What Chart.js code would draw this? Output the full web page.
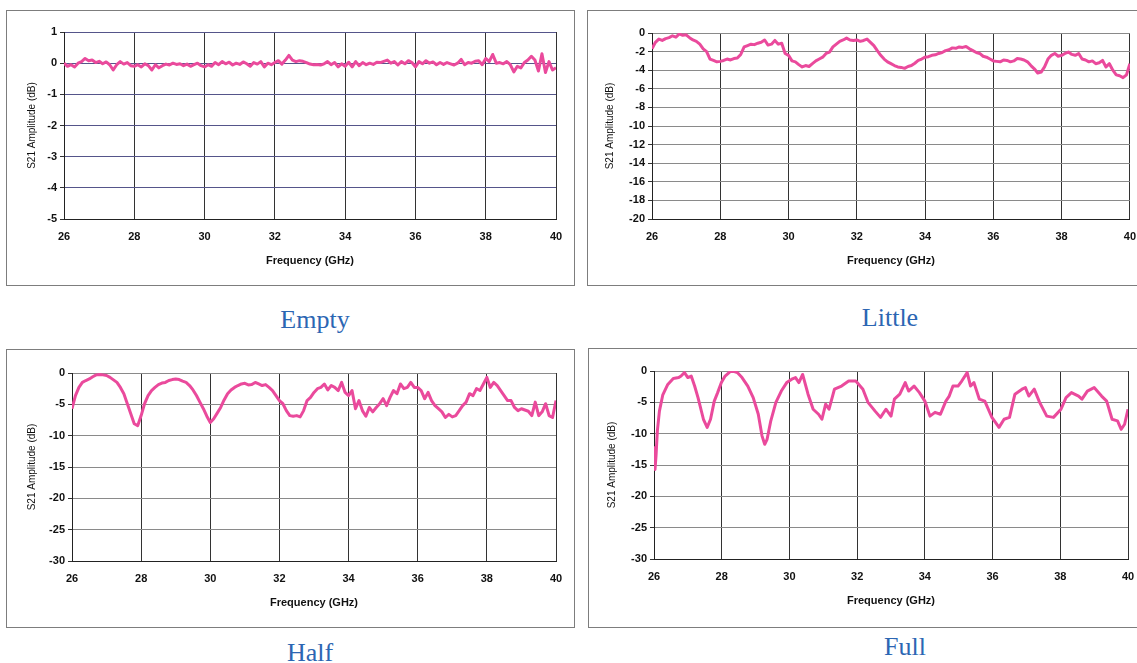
<!DOCTYPE html>
<html lang="en">
<head>
<meta charset="UTF-8">
<title>S21 Amplitude vs Frequency</title>
<script src="https://cdn.jsdelivr.net/npm/chart.js"></script>
<style>
    body { margin: 0; background: #fff; width: 1137px; height: 663px; overflow: hidden; position: relative; }
    .panel { position: absolute; outline: 1px solid #7d7d7d; outline-offset: -1px; }
    .panel canvas { position: absolute; left: 0; top: 0; }
    .caption {
        position: absolute;
        transform: translate(-50%, -50%);
        font-family: "Liberation Serif", "Times New Roman", serif;
        font-size: 26px;
        line-height: 1;
        color: #2c66b3;
        white-space: nowrap;
    }
</style>
</head>
<body>
<div class="panel" id="boxEmpty"><canvas id="chartEmpty"></canvas></div>
<div class="panel" id="boxLittle"><canvas id="chartLittle"></canvas></div>
<div class="panel" id="boxHalf"><canvas id="chartHalf"></canvas></div>
<div class="panel" id="boxFull"><canvas id="chartFull"></canvas></div>
<div class="caption" style="left:315px; top:320px;">Empty</div>
<div class="caption" style="left:890px; top:318px;">Little</div>
<div class="caption" style="left:310px; top:653px;">Half</div>
<div class="caption" style="left:905px; top:647px;">Full</div>

<script>
// frequency grid (GHz) shared by Empty, Little and Half
const freq = [
    26.0, 26.1, 26.2, 26.3, 26.4, 26.5, 26.6, 26.7, 26.8, 26.9,
    27.0, 27.1, 27.2, 27.3, 27.4, 27.5, 27.6, 27.7, 27.8, 27.9,
    28.0, 28.1, 28.2, 28.3, 28.4, 28.5, 28.6, 28.7, 28.8, 28.9,
    29.0, 29.1, 29.2, 29.3, 29.4, 29.5, 29.6, 29.7, 29.8, 29.9,
    30.0, 30.1, 30.2, 30.3, 30.4, 30.5, 30.6, 30.7, 30.8, 30.9,
    31.0, 31.1, 31.2, 31.3, 31.4, 31.5, 31.6, 31.7, 31.8, 31.9,
    32.0, 32.1, 32.2, 32.3, 32.4, 32.5, 32.6, 32.7, 32.8, 32.9,
    33.0, 33.1, 33.2, 33.3, 33.4, 33.5, 33.6, 33.7, 33.8, 33.9,
    34.0, 34.1, 34.2, 34.3, 34.4, 34.5, 34.6, 34.7, 34.8, 34.9,
    35.0, 35.1, 35.2, 35.3, 35.4, 35.5, 35.6, 35.7, 35.8, 35.9,
    36.0, 36.1, 36.2, 36.3, 36.4, 36.5, 36.6, 36.7, 36.8, 36.9,
    37.0, 37.1, 37.2, 37.3, 37.4, 37.5, 37.6, 37.7, 37.8, 37.9,
    38.0, 38.1, 38.2, 38.3, 38.4, 38.5, 38.6, 38.7, 38.8, 38.9,
    39.0, 39.1, 39.2, 39.3, 39.4, 39.5, 39.6, 39.7, 39.8, 39.9,
    40.0
];

// S21 amplitude (dB)
const emptyS21 = [
    0.0, -0.1, -0.05, -0.12, 0.0, 0.05, 0.15, 0.08, 0.1, 0.02,
    0.06, -0.02, 0.04, -0.05, -0.22, -0.05, 0.05, -0.03, 0.02, -0.08,
    -0.1, -0.05, -0.12, -0.02, -0.08, -0.22, -0.05, -0.15, -0.08, -0.03,
    -0.06, 0.0, -0.04, -0.02, -0.08, -0.03, -0.1, -0.05, 0.0, -0.08,
    -0.12, -0.05, -0.1, 0.02, -0.05, 0.05, -0.02, 0.03, -0.06, 0.0,
    -0.04, 0.04, -0.02, -0.1, 0.02, -0.03, 0.05, -0.12, 0.0, -0.05,
    0.02, 0.08, -0.03, 0.1, 0.25, 0.1, 0.05, 0.08, 0.06, 0.02,
    -0.03, -0.05, -0.04, -0.06, -0.02, 0.05, -0.05, 0.02, -0.12, -0.02,
    -0.1, 0.03, -0.12, 0.05, -0.08, 0.02, -0.05, 0.0, -0.04, 0.03,
    0.02, 0.06, 0.1, 0.0, 0.05, -0.06, 0.05, -0.02, 0.08, 0.02,
    -0.12, 0.05, -0.02, 0.08, 0.0, 0.04, -0.05, 0.02, -0.04, 0.02,
    -0.02, -0.06, 0.0, 0.12, -0.05, 0.02, 0.0, 0.06, 0.08, -0.05,
    0.15, 0.05, 0.28, 0.0, 0.02, -0.02, 0.05, -0.05, -0.28, -0.1,
    -0.15, 0.02, 0.1, 0.22, 0.1, -0.25, 0.3, -0.3, 0.05, -0.22,
    -0.15
];

const littleS21 = [
    -1.7, -1.0, -0.65, -0.8, -0.6, -0.5, -0.3, -0.45, -0.1, -0.25,
    -0.2, -0.5, -0.75, -0.9, -1.2, -1.7, -2.0, -2.8, -2.95, -3.1,
    -3.05, -2.95, -2.8, -2.9, -2.75, -2.7, -2.3, -1.5, -1.35, -1.2,
    -1.25, -1.1, -1.0, -0.75, -1.3, -1.2, -0.8, -1.2, -1.1, -2.2,
    -2.4, -3.0, -3.1, -3.4, -3.65, -3.5, -3.6, -3.3, -3.0, -2.8,
    -2.6, -2.2, -2.05, -1.5, -1.2, -0.9, -0.75, -0.55, -0.75, -0.8,
    -0.75, -0.9, -0.8, -0.65, -1.0, -1.35, -1.9, -2.4, -2.8, -3.1,
    -3.3, -3.5, -3.65, -3.7, -3.8, -3.6, -3.5, -3.25, -2.95, -2.8,
    -2.6, -2.55, -2.4, -2.35, -2.2, -2.1, -1.9, -1.8, -1.6, -1.65,
    -1.5, -1.55, -1.45, -1.7, -1.9, -2.1, -2.2, -2.5, -2.6, -2.8,
    -3.0, -3.05, -3.1, -2.9, -2.95, -3.1, -3.0, -2.75, -2.8, -2.9,
    -3.1, -3.5, -3.85, -4.3, -4.2, -3.65, -2.8, -2.4, -2.2, -2.5,
    -2.4, -2.2, -2.05, -2.3, -2.4, -2.2, -2.8, -2.9, -3.1, -3.0,
    -3.3, -3.2, -2.95, -3.65, -3.3, -4.0, -4.5, -4.6, -4.8, -4.5,
    -3.3
];

const halfS21 = [
    -5.7, -3.6, -2.3, -1.5, -1.2, -0.95, -0.6, -0.3, -0.25, -0.3,
    -0.4, -0.7, -1.1, -1.5, -2.3, -3.3, -4.9, -6.5, -8.1, -8.4,
    -6.8, -4.9, -3.6, -2.8, -2.3, -1.85, -1.6, -1.5, -1.2, -1.05,
    -0.95, -1.05, -1.3, -1.5, -2.0, -2.7, -3.6, -4.65, -5.7, -6.9,
    -7.9, -7.3, -6.4, -5.5, -4.3, -3.3, -2.7, -2.3, -2.0, -1.75,
    -1.65, -1.9, -1.85, -1.5, -1.75, -2.0, -1.85, -2.3, -2.8, -3.6,
    -4.4, -4.9, -6.0, -6.8, -6.9, -6.8, -7.0, -6.0, -4.4, -3.9,
    -3.1, -2.5, -2.3, -1.75, -2.7, -2.0, -2.3, -2.8, -1.5, -3.1,
    -3.6, -2.8, -5.7, -4.4, -6.0, -6.9, -5.5, -6.2, -5.5, -4.9,
    -4.1, -5.2, -3.9, -2.8, -3.3, -1.75, -2.5, -2.3, -1.5, -2.3,
    -2.3, -2.8, -4.1, -3.1, -4.4, -5.2, -5.7, -6.2, -7.1, -6.6,
    -7.0, -6.8, -6.0, -5.2, -4.65, -3.3, -3.6, -2.5, -2.8, -1.75,
    -0.7, -2.3, -1.5, -2.0, -2.8, -3.6, -4.4, -4.4, -5.5, -6.0,
    -5.7, -5.9, -6.1, -6.8, -4.65, -6.8, -6.2, -4.9, -6.8, -7.1,
    -4.4
];

// Full has its own (uneven) frequency points
const fullFreq = [
    26.0, 26.03, 26.06, 26.1, 26.16, 26.26, 26.4, 26.57, 26.73, 26.8,
    26.9, 27.0, 27.1, 27.2, 27.3, 27.46, 27.57, 27.67, 27.78, 27.88,
    27.99, 28.1, 28.25, 28.35, 28.46, 28.6, 28.77, 28.93, 29.08, 29.19,
    29.27, 29.34, 29.45, 29.6, 29.76, 29.92, 30.07, 30.18, 30.28, 30.39,
    30.55, 30.7, 30.86, 30.96, 31.07, 31.17, 31.33, 31.54, 31.75, 31.96,
    32.17, 32.32, 32.53, 32.69, 32.85, 33.0, 33.1, 33.26, 33.42, 33.52,
    33.68, 33.84, 34.0, 34.15, 34.3, 34.46, 34.62, 34.72, 34.83, 34.98,
    35.09, 35.25, 35.35, 35.45, 35.61, 35.77, 35.98, 36.19, 36.34, 36.5,
    36.66, 36.87, 36.97, 37.07, 37.23, 37.39, 37.6, 37.8, 38.02, 38.17,
    38.33, 38.54, 38.64, 38.8, 39.0, 39.22, 39.37, 39.53, 39.69, 39.8,
    39.9, 40.0
];
const fullS21 = [
    -12.0, -15.7, -13.5, -9.5, -6.4, -3.8, -2.2, -1.2, -1.05, -0.8,
    -0.25, -1.05, -0.8, -2.4, -4.25, -7.7, -9.0, -7.7, -4.8, -3.45,
    -1.85, -0.8, -0.1, -0.05, -0.25, -1.05, -2.4, -4.25, -6.9, -10.35,
    -11.7, -10.9, -7.95, -5.0, -3.2, -1.85, -1.3, -1.05, -1.85, -0.55,
    -3.7, -6.1, -6.9, -7.7, -5.3, -6.1, -2.9, -2.4, -1.6, -1.6,
    -2.9, -5.0, -6.4, -7.4, -6.1, -7.2, -4.5, -3.7, -1.85, -3.2,
    -2.4, -3.45, -4.8, -7.2, -6.6, -6.9, -4.8, -4.0, -2.4, -2.4,
    -1.6, -0.25, -2.4, -1.85, -4.5, -4.8, -7.4, -9.0, -7.7, -7.4,
    -3.7, -2.9, -2.65, -4.0, -2.9, -5.0, -7.2, -7.4, -6.1, -4.25,
    -3.45, -4.0, -4.5, -3.2, -2.65, -4.0, -4.8, -7.7, -7.95, -9.3,
    -8.5, -6.1
];

const xTicks = { min: 26, max: 40, step: 2 };

function renderChart(boxId, canvasId, xs, ys, yMin, yMax, yStep, geo) {
    let box = document.getElementById(boxId);
    box.style.left = geo.left + 'px';
    box.style.top = geo.top + 'px';
    box.style.width = geo.width + 'px';
    box.style.height = geo.height + 'px';
    let canvas = document.getElementById(canvasId);
    canvas.width = geo.width;
    canvas.height = geo.height;

    const xAxisH = 50;
    let points = xs.map((x, i) => ({ x: x, y: ys[i] }));

    new Chart(canvas.getContext('2d'), {
        type: 'line',
        data: {
            datasets: [{
                data: points,
                borderColor: '#ea4a9c',
                borderWidth: 3,
                borderJoinStyle: 'round',
                pointRadius: 0,
                tension: 0,
                fill: false
            }]
        },
        options: {
            responsive: false,
            animation: false,
            events: [],
            layout: {
                padding: {
                    left: 0,
                    right: geo.width - geo.plotR,
                    top: geo.plotT,
                    bottom: geo.height - geo.plotB - xAxisH
                }
            },
            plugins: { legend: { display: false }, tooltip: { enabled: false } },
            scales: {
                x: {
                    type: 'linear',
                    min: xTicks.min,
                    max: xTicks.max,
                    afterFit: function(scale) { scale.height = xAxisH; },
                    ticks: {
                        stepSize: xTicks.step,
                        padding: 11,
                        color: '#111',
                        font: { family: '"Liberation Sans", Arial, sans-serif', size: 11, weight: 'bold' },
                        maxRotation: 0
                    },
                    grid: { color: '#333', lineWidth: 1, drawTicks: false },
                    border: { color: '#222', width: 1 },
                    title: {
                        display: true,
                        text: 'Frequency (GHz)',
                        color: '#111',
                        font: { family: '"Liberation Sans", Arial, sans-serif', size: 11, weight: 'bold' },
                        padding: { top: 0, bottom: geo.plotB + xAxisH - geo.xTitleY - 6.6 }
                    }
                },
                y: {
                    min: yMin,
                    max: yMax,
                    afterFit: function(scale) { scale.width = geo.plotL; },
                    ticks: {
                        stepSize: yStep,
                        padding: 3,
                        color: '#111',
                        font: { family: '"Liberation Sans", Arial, sans-serif', size: 11, weight: 'bold' }
                    },
                    grid: { color: geo.hGrid, lineWidth: 1, tickLength: 4, tickColor: '#333' },
                    border: { color: '#222', width: 1 },
                    title: {
                        display: true,
                        text: 'S21 Amplitude (dB)',
                        color: '#111',
                        font: { family: '"Liberation Sans", Arial, sans-serif', size: 10 },
                        padding: { top: geo.yTitleX - 6, bottom: 0 }
                    }
                }
            }
        }
    });
}

renderChart('boxEmpty', 'chartEmpty', freq, emptyS21, -5, 1, 1,
    { left: 6, top: 10, width: 569, height: 276, plotL: 58, plotR: 550, plotT: 22, plotB: 209, yTitleX: 26, xTitleY: 251, hGrid: '#55558a' });
renderChart('boxLittle', 'chartLittle', freq, littleS21, -20, 0, 2,
    { left: 587, top: 10, width: 560, height: 276, plotL: 65, plotR: 546, plotT: 23, plotB: 209, yTitleX: 23, xTitleY: 251, hGrid: '#8a8a8a' });
renderChart('boxHalf', 'chartHalf', freq, halfS21, -30, 0, 5,
    { left: 6, top: 349, width: 569, height: 279, plotL: 66, plotR: 550, plotT: 24, plotB: 212, yTitleX: 26, xTitleY: 254, hGrid: '#8a8a8a' });
renderChart('boxFull', 'chartFull', fullFreq, fullS21, -30, 0, 5,
    { left: 588, top: 348, width: 560, height: 280, plotL: 66, plotR: 540, plotT: 23, plotB: 211, yTitleX: 24, xTitleY: 253, hGrid: '#8a8a8a' });
</script>
</body>
</html>
